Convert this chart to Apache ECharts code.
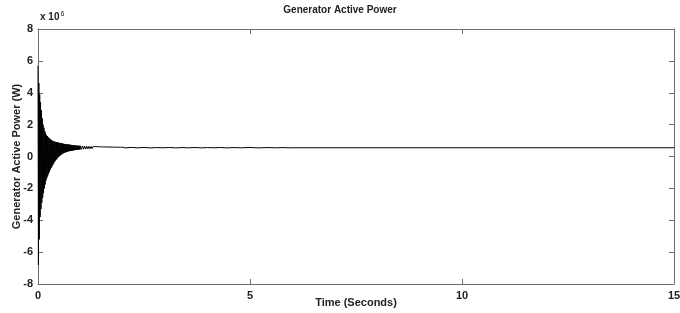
<!DOCTYPE html>
<html>
<head>
<meta charset="utf-8">
<script src="https://cdn.jsdelivr.net/npm/echarts@6/dist/echarts.min.js"></script>
<style>
  html, body { margin: 0; padding: 0; background: #fff; }
  #chart { width: 680px; height: 313px; }
</style>
</head>
<body>
<div id="chart"></div>
<script>
// upper peaks of the oscillation (time s, power x 10^6 W)
const upperTime = [
  0.00, 0.02, 0.04, 0.06, 0.08, 0.10, 0.12, 0.14, 0.16, 0.18, 0.20,
  0.22, 0.24, 0.26, 0.28, 0.30, 0.32, 0.34, 0.36, 0.38, 0.40,
  0.42, 0.44, 0.46, 0.48, 0.50, 0.52, 0.54, 0.56, 0.58, 0.60,
  0.62, 0.64, 0.66, 0.68, 0.70, 0.72, 0.74, 0.76, 0.78, 0.80,
  0.82, 0.84, 0.86, 0.88, 0.90, 0.92, 0.94, 0.96, 0.98, 1.00,
  1.05, 1.10, 1.15, 1.20, 1.25, 1.30, 1.35, 1.40, 1.45, 1.50,
  1.55, 1.60, 1.65, 1.70, 1.75, 1.80, 1.85, 1.90, 1.95, 2.00,
  2.20, 2.50, 2.80, 3.10, 3.40, 3.70, 4.00, 4.30, 4.60, 5.00, 5.40, 5.80, 6.00, 15.0
]
const upperValue = [
  5.7, 4.6, 3.9, 3.4, 2.9, 2.4, 2.0, 1.8, 1.6, 1.45, 1.35,
  1.28, 1.22, 1.16, 1.11, 1.06, 1.02, 0.99, 0.97, 0.95, 0.93,
  0.91, 0.90, 0.88, 0.87, 0.86, 0.85, 0.84, 0.83, 0.815, 0.80,
  0.79, 0.785, 0.775, 0.77, 0.76, 0.755, 0.745, 0.74, 0.73, 0.72,
  0.715, 0.71, 0.70, 0.695, 0.69, 0.685, 0.68, 0.675, 0.67, 0.67,
  0.66, 0.65, 0.645, 0.635, 0.63, 0.625, 0.62, 0.615, 0.61, 0.605,
  0.60, 0.60, 0.595, 0.59, 0.59, 0.585, 0.585, 0.58, 0.58, 0.58,
  0.57, 0.565, 0.56, 0.565, 0.56, 0.565, 0.56, 0.565, 0.56, 0.565, 0.56, 0.56, 0.55, 0.55
]
// lower troughs of the oscillation
const lowerTime = [
  0.01, 0.03, 0.05, 0.07, 0.09, 0.11, 0.13, 0.15, 0.17, 0.19,
  0.21, 0.23, 0.25, 0.27, 0.29, 0.31, 0.33, 0.35, 0.37, 0.39,
  0.41, 0.43, 0.45, 0.47, 0.49, 0.51, 0.53, 0.55, 0.57, 0.59,
  0.61, 0.63, 0.65, 0.67, 0.69, 0.71, 0.73, 0.75, 0.77, 0.79,
  0.81, 0.83, 0.85, 0.87, 0.89, 0.91, 0.93, 0.95, 0.97, 0.99,
  1.025, 1.075, 1.125, 1.175, 1.225, 1.275, 1.325, 1.375, 1.425, 1.475,
  1.525, 1.575, 1.625, 1.675, 1.725, 1.775, 1.825, 1.875, 1.925, 1.975,
  2.05, 2.35, 2.65, 2.95, 3.25, 3.55, 3.85, 4.15, 4.45, 4.80, 5.20, 5.60, 5.90
]
const lowerValue = [
  -6.8, -5.2, -3.8, -3.3, -2.9, -2.6, -2.3, -2.0, -1.75, -1.5,
  -1.35, -1.2, -1.07, -0.95, -0.83, -0.72, -0.62, -0.52, -0.43, -0.35,
  -0.27, -0.2, -0.13, -0.07, -0.02, 0.03, 0.08, 0.12, 0.15, 0.19,
  0.22, 0.24, 0.26, 0.28, 0.30, 0.31, 0.33, 0.34, 0.35, 0.36,
  0.37, 0.38, 0.39, 0.40, 0.41, 0.415, 0.42, 0.43, 0.435, 0.44,
  0.45, 0.46, 0.47, 0.48, 0.485, 0.49, 0.50, 0.505, 0.51, 0.51,
  0.515, 0.52, 0.52, 0.525, 0.525, 0.53, 0.53, 0.53, 0.535, 0.535,
  0.54, 0.545, 0.54, 0.545, 0.54, 0.545, 0.54, 0.545, 0.54, 0.545, 0.54, 0.545, 0.545
]

const xTicks = [0, 5, 10, 15]
const yTicks = [-8, -6, -4, -2, 0, 2, 4, 6, 8]

// merge both envelopes by time to get the trace
const points = upperTime.map((t, i) => [t, upperValue[i]])
  .concat(lowerTime.map((t, i) => [t, lowerValue[i]]))
  .sort((a, b) => a[0] - b[0])

const chart = echarts.init(document.getElementById('chart'))
const font = 'Liberation Sans'
const axisGray = '#6e6e6e'

const baseX = {
  type: 'value', min: 0, max: 15, interval: 5,
  axisLine: { show: true, onZero: false, lineStyle: { color: axisGray, width: 1 } },
  axisTick: { show: true, inside: true, length: 5, lineStyle: { color: axisGray } },
  splitLine: { show: false }
}
const baseY = {
  type: 'value', min: -8, max: 8, interval: 2,
  axisLine: { show: true, onZero: false, lineStyle: { color: axisGray, width: 1 } },
  axisTick: { show: true, inside: true, length: 5, lineStyle: { color: axisGray } },
  splitLine: { show: false }
}

chart.setOption({
  animation: false,
  textStyle: { fontFamily: font },
  title: {
    text: 'Generator Active Power',
    left: 'center', top: 0,
    textStyle: { fontSize: 10, fontWeight: 'bold', color: '#222', fontFamily: font }
  },
  grid: { left: 38, right: 6, top: 29, bottom: 29, outerBoundsMode: 'none' },
  xAxis: [
    Object.assign({}, baseX, {
      position: 'bottom',
      name: 'Time (Seconds)', nameLocation: 'middle', nameGap: 13, nameMoveOverlap: false,
      nameTextStyle: { fontSize: 11, fontWeight: 'bold', color: '#222' },
      axisLabel: {
        fontSize: 11, fontWeight: 'bold', color: '#222', margin: 6,
        formatter: v => xTicks.includes(v) ? String(v) : ''
      }
    }),
    Object.assign({}, baseX, { position: 'top', axisLabel: { show: false } })
  ],
  yAxis: [
    Object.assign({}, baseY, {
      position: 'left',
      name: 'Generator Active Power (W)', nameLocation: 'middle', nameGap: 16, nameMoveOverlap: false,
      nameTextStyle: { fontSize: 11, fontWeight: 'bold', color: '#222' },
      axisLabel: {
        fontSize: 11, fontWeight: 'bold', color: '#222', margin: 5,
        formatter: v => yTicks.includes(v) ? String(v) : ''
      }
    }),
    Object.assign({}, baseY, { position: 'right', axisLabel: { show: false } })
  ],
  graphic: [{
    type: 'text', left: 40, top: 11,
    style: {
      text: '{b|x 10}{s|6}',
      rich: {
        b: { fontSize: 10, fontWeight: 'bold', fill: '#222', fontFamily: font },
        s: { fontSize: 7, fill: '#222', fontFamily: font, verticalAlign: 'top', padding: [0, 0, 6, 1] }
      }
    }
  }],
  series: [{
    type: 'line',
    data: points,
    showSymbol: false,
    lineStyle: { color: '#000', width: 1 },
    silent: true
  }]
})
</script>
</body>
</html>
